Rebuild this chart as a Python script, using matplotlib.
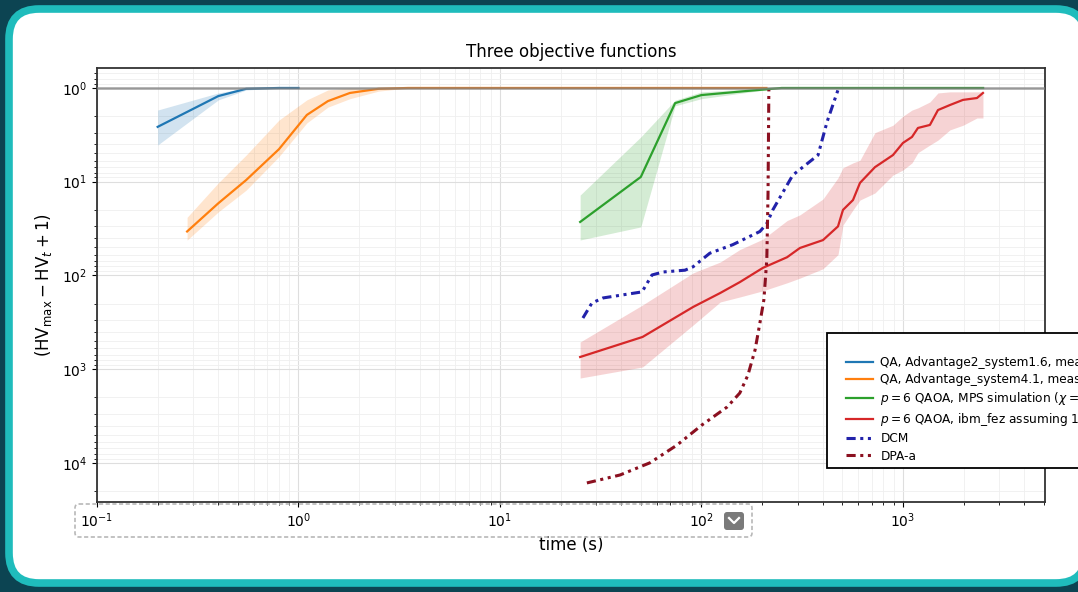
#%%
import numpy as np
import matplotlib
matplotlib.use("Agg")
from matplotlib import pyplot as plt
from matplotlib.patches import FancyBboxPatch, Rectangle

#%%
# values (time in s, y = HV_max - HV_t + 1)

# QA, Advantage2_system1.6
t_adv2 = [0.2, 0.4, 0.55, 0.8, 1.0]
y_adv2 = [2.6, 1.22, 1.02, 1.0, 1.0]
lo_adv2 = [1.72, 1.13, 1.0, 1.0, 1.0]
hi_adv2 = [4.06, 1.34, 1.05, 1.0, 1.0]

# QA, Advantage_system4.1
t_adv41 = [0.28, 0.4, 0.55, 0.8, 1.1, 1.4, 1.8, 2.5, 3.5, 10, 50, 210]
y_adv41 = [34, 17, 9.6, 4.5, 1.94, 1.38, 1.13, 1.02, 1.0, 1.0, 1.0, 1.0]
lo_adv41 = [24, 10.3, 5.2, 2.2, 1.34, 1.05, 1.0, 1.0, 1.0, 1.0, 1.0, 1.0]
hi_adv41 = [42, 21, 12.3, 5.4, 2.36, 1.6, 1.3, 1.08, 1.0, 1.0, 1.0, 1.0]

# p=6 QAOA, MPS simulation
t_mps = [25, 50, 74, 100, 165, 250, 500, 1000, 2500]
y_mps = [26.9, 8.9, 1.45, 1.19, 1.08, 1.0, 1.0, 1.0, 1.0]
lo_mps = [13.9, 3.33, 1.35, 1.1, 1.03, 1.0, 1.0, 1.0, 1.0]
hi_mps = [41.9, 30.4, 1.55, 1.3, 1.12, 1.0, 1.0, 1.0, 1.0]

# p=6 QAOA, ibm_fez
t_fez = [25, 51, 91, 124, 155, 202, 266, 308, 401, 476, 504, 565, 612,
         726, 892, 1000, 1109, 1187, 1361, 1492, 1711, 1986, 2330, 2495]
y_fez = [743, 454, 217, 154, 118, 83, 64, 51, 42, 30, 20, 15.7, 10.3,
         7.0, 5.2, 3.86, 3.33, 2.67, 2.48, 1.72, 1.52, 1.34, 1.28, 1.13]
lo_fez = [514, 207, 94, 72, 53, 41, 26, 22.6, 15.3, 9.1, 7.1, 6.3, 5.9,
          3.0, 2.5, 2.0, 1.72, 1.63, 1.41, 1.13, 1.1, 1.1, 1.1, 1.1]
hi_fez = [1245, 950, 338, 192, 170, 146, 120, 107, 85, 60, 29, 20, 15.7,
          13.2, 8.5, 7.5, 6.3, 4.9, 4.06, 3.6, 2.8, 2.5, 2.09, 2.09]

# DCM
t_dcm = [25.8, 28.6, 32.5, 50.7, 56.8, 64.4, 82.8, 90.8, 110, 143, 195,
         211, 226, 284, 379, 420, 476]
y_dcm = [285, 197, 174, 150, 99, 92, 88, 81, 58, 47, 34, 28, 20, 8.5,
         5.2, 2.3, 1.05]

# DPA-a
t_dpa = [27, 39.4, 55.5, 75.6, 100.5, 134, 155, 170, 184.5, 195, 204, 211,
         214, 216]
y_dpa = [16400, 13500, 10000, 6470, 3950, 2540, 1800, 1160, 625, 322, 183,
         68, 13.2, 1.05]

labels = ["QA, Advantage2_system1.6, measured QPU time",
          "QA, Advantage_system4.1, measured QPU time",
          r"$p=6$ QAOA, MPS simulation ($\chi=64$)",
          r"$p=6$ QAOA, ibm_fez assuming 1 ms per shot",
          "DCM",
          "DPA-a"]

#%%
W, H = 1078, 592
fig = plt.figure(figsize=(W / 100, H / 100), dpi=100)
fig.patch.set_facecolor("#0c4452")

# screenshot frame: rounded white panel with teal border (pixel coords)
bg = fig.add_axes([0, 0, 1, 1])
bg.set_xlim(0, W)
bg.set_ylim(H, 0)
bg.axis("off")
panel = FancyBboxPatch((9, 9), 1086 - 9, H - 18,
                       boxstyle="round,pad=0,rounding_size=30",
                       facecolor="white", edgecolor="#1fbcbc", linewidth=5.5)
bg.add_patch(panel)

#%%
ax = fig.add_axes([97 / W, 1 - 502 / H, (1045 - 97) / W, (502 - 68) / H])
ax.set_facecolor("white")
ax.set_xscale("log")
ax.set_yscale("log")

c_blue, c_orange, c_green, c_red = "#1f77b4", "#ff7f0e", "#2ca02c", "#d62728"

ax.fill_between(t_adv2, lo_adv2, hi_adv2, color=c_blue, alpha=0.2, lw=0)
ax.plot(t_adv2, y_adv2, color=c_blue, lw=1.6, label=labels[0])

ax.fill_between(t_adv41, lo_adv41, hi_adv41, color=c_orange, alpha=0.2, lw=0)
ax.plot(t_adv41, y_adv41, color=c_orange, lw=1.6, label=labels[1])

ax.fill_between(t_mps, lo_mps, hi_mps, color=c_green, alpha=0.2, lw=0)
ax.plot(t_mps, y_mps, color=c_green, lw=1.6, label=labels[2])

ax.fill_between(t_fez, lo_fez, hi_fez, color=c_red, alpha=0.2, lw=0)
ax.plot(t_fez, y_fez, color=c_red, lw=1.6, label=labels[3])

ax.plot(t_dcm, y_dcm, color="#2222aa", lw=2.2,
        dashes=[3, 1.5, 1, 1.5, 1, 1.5], label=labels[4])
ax.plot(t_dpa, y_dpa, color="#8b1020", lw=2.2,
        dashes=[3, 1.5, 1, 1.5, 1, 1.5], label=labels[5])

# reference line at 1
ax.axhline(1.0, color="#808080", lw=1.8, alpha=0.75, zorder=3)

ax.set_xlim(0.1, 5070)
ax.set_ylim(26200, 0.612)   # inverted

ax.grid(which="major", color="#dedede", lw=0.8)
ax.grid(which="minor", color="#efefef", lw=0.6)
ax.set_axisbelow(True)
for s in ax.spines.values():
    s.set_linewidth(1.3)
    s.set_color("#333333")
ax.tick_params(labelsize=10)

ax.set_title("Three objective functions", fontsize=12, pad=8)
ax.set_xlabel("time (s)", fontsize=12)
ax.set_ylabel(r"$(\mathrm{HV}_{\max}-\mathrm{HV}_t+1)$", fontsize=12,
              labelpad=6)

# legend box drawn by hand so the padding matches, legend itself frameless
box = Rectangle((827 / W, 1 - 468 / H), 300 / W, (468 - 333) / H,
                transform=fig.transFigure, facecolor="white",
                edgecolor="black", linewidth=1.3, zorder=4.9, clip_on=False)
ax.add_patch(box)
leg = ax.legend(loc="upper left", bbox_to_anchor=(846 / W, 1 - 356 / H),
                bbox_transform=fig.transFigure, borderaxespad=0, borderpad=0,
                fontsize=8.7, frameon=False, handlelength=2.2,
                handletextpad=0.65, labelspacing=0.34)
leg.set_zorder(5)

#%%
# dashed selection box + small button over the x tick labels
ov = fig.add_axes([0, 0, 1, 1])
ov.set_xlim(0, W)
ov.set_ylim(H, 0)
ov.axis("off")
ov.patch.set_alpha(0)
sel = FancyBboxPatch((75, 504), 752 - 75, 537 - 504,
                     boxstyle="round,pad=0,rounding_size=4",
                     facecolor="none", edgecolor="#b8b8b8", linewidth=1.2,
                     linestyle=(0, (2.5, 1.5)))
ov.add_patch(sel)
btn = FancyBboxPatch((724, 512), 20, 18, boxstyle="round,pad=0,rounding_size=3",
                     facecolor="#7a7a7a", edgecolor="none")
ov.add_patch(btn)
ov.plot([729, 734, 739], [518, 523, 518], color="white", lw=1.6)

fig.savefig("out.png", dpi=100, facecolor=fig.get_facecolor())
